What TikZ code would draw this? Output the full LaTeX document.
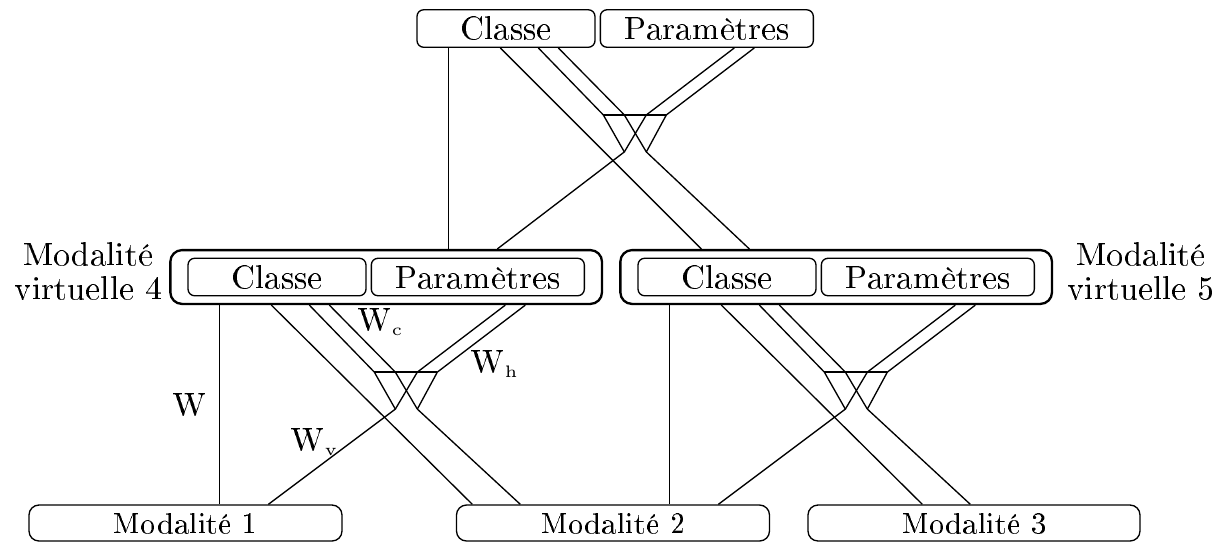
\documentclass[tikz,border=0pt]{standalone}
\usepackage[T1]{fontenc}
\usepackage{tikz}
\usetikzlibrary{positioning,fit}

\begin{document}
\begin{tikzpicture}[x=0.3pt, y=-0.3pt,
  boite/.style={draw, rounded corners=2pt, minimum height=11.25pt, inner sep=0pt},
  cls/.style={boite, minimum width=53.4pt},
  par/.style={boite, minimum width=63.9pt},
  grande/.style={draw, line width=0.7pt, rounded corners=3.5pt, inner xsep=5.1pt, inner ysep=2.25pt},
  mod/.style={draw, rounded corners=3pt, minimum width=93.9pt, minimum height=10.8pt, inner sep=0pt, font=\small},
  lab/.style={inner sep=0pt, align=center, yshift=1.8pt},
  poids/.style={inner sep=0pt, anchor=base west}]
  \useasboundingbox (0,0) rectangle (1217,541);
  % classe et parametres du haut
  \node[cls] (cl) at (506,28.5) {Classe};
  \node[par, right=1.2pt of cl] (pa) {Paramètres};
  % modalites virtuelles
  \node[cls] (cl4) at (277,277) {Classe};
  \node[par, right=1.2pt of cl4] (pa4) {Paramètres};
  \node[grande, fit=(cl4)(pa4)] (vb4) {};
  \node[lab, left=2pt of vb4] (t4) {Modalité\\[-2pt]virtuelle 4};
  \node[cls] (cl5) at (727,277) {Classe};
  \node[par, right=1.2pt of cl5] (pa5) {Paramètres};
  \node[grande, fit=(cl5)(pa5)] (vb5) {};
  \node[lab, right=4pt of vb5] (t5) {Modalité\\[-2pt]virtuelle 5};
  % modalites
  \node[mod] (m1) at (185.5,523) {Modalité 1};
  \node[mod] (m2) at (613,523) {Modalité 2};
  \node[mod, minimum width=99.6pt] (m3) at (974,523) {Modalité 3};
  % entonnoirs
  \coordinate (oh) at (cl.south west);
  \coordinate (o4) at (cl4.south west |- vb4.south);
  \coordinate (o5) at (cl5.south west |- vb5.south);
  \foreach \o/\g/\d in {oh/vb4/vb5, o4/m1/m2, o5/m2/m3}{
    \begin{scope}[shift={(\o)}]
      \coordinate (\o-w) at (32,0);
      \coordinate (\o-d) at (84,0);
      \coordinate (\o-c1) at (122,0);
      \coordinate (\o-c2) at (142,0);
      \coordinate (\o-h1) at (318,0);
      \coordinate (\o-h2) at (338,0);
      \coordinate (\o-t1) at (187,67);
      \coordinate (\o-t2) at (208,67);
      \coordinate (\o-t3) at (230,67);
      \coordinate (\o-t4) at (250,67);
      \coordinate (\o-b1) at (208,104);
      \coordinate (\o-b2) at (230,104);
      \coordinate (\o-g) at (81,0);
      \coordinate (\o-e) at (285,0);
      \coordinate (\o-f) at (333,0);
    \end{scope}
    \draw (\o-w) -- (\o-w |- \g.north);
    \draw (\o-d) -- (\o-e |- \d.north);
    \draw (\o-c1) -- (\o-t1) -- (\o-b1) -- (\o-g |- \g.north);
    \draw (\o-c2) -- (\o-t2) -- (\o-b2) -- (\o-f |- \d.north);
    \draw (\o-h1) -- (\o-t3) -- (\o-b1);
    \draw (\o-h2) -- (\o-t4) -- (\o-b2);
    \draw (\o-t1) -- (\o-t4);
  }
  % poids
  \node[poids] (w) at (172,415) {W};
  \node[poids] (wc) at (357,330) {W$_{\scriptscriptstyle\mathrm{c}}$};
  \node[poids] (wh) at (470,372) {W$_{\scriptscriptstyle\mathrm{h}}$};
  \node[poids] (wv) at (290,450) {W$_{\scriptscriptstyle\mathrm{v}}$};
\end{tikzpicture}
\end{document}
